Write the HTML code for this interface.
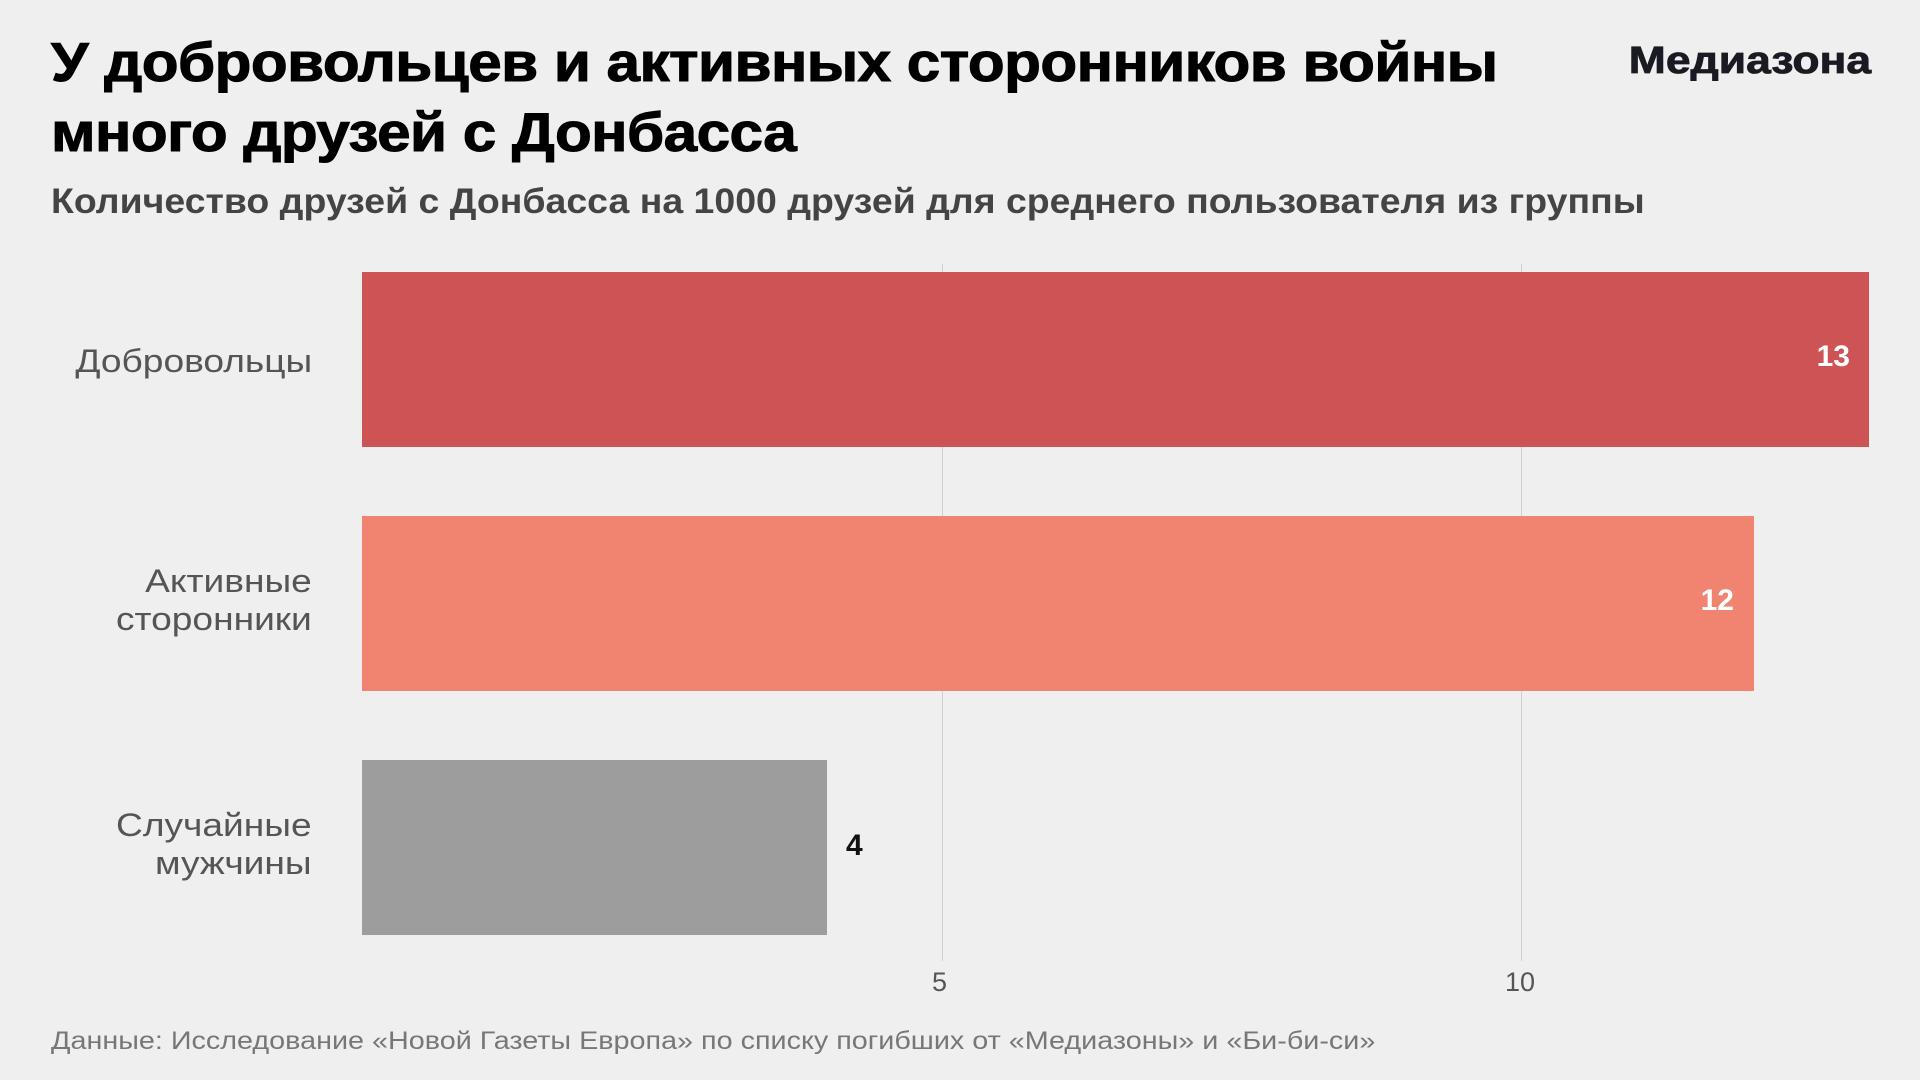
<!DOCTYPE html>
<html><head><meta charset="utf-8"><style>
body{margin:0;width:1920px;height:1080px;background:#efefef;font-family:"Liberation Sans",sans-serif;position:relative;overflow:hidden}
.a{position:absolute;white-space:nowrap}
.t{left:51px;font-weight:900;font-size:55px;color:#000;letter-spacing:-0.5px;transform:scaleX(1.095);transform-origin:left center;-webkit-text-stroke:1px #000}
.lab{right:1608px;text-align:right;font-size:32px;color:#555;line-height:38px;transform:scaleX(1.16);transform-origin:right center}
.bar{position:absolute;left:362px}
.grid{position:absolute;top:264px;height:697px;width:1px;background:#d0d0d0}
.v{font-weight:bold;font-size:30px}
.tick{font-size:27px;color:#555;top:967px}
</style></head><body>
<div class="a t" style="top:30px">У добровольцев и активных сторонников войны</div>
<div class="a t" style="top:100px">много друзей с Донбасса</div>
<div class="a" style="right:49px;top:40px;font-weight:bold;font-size:38px;color:#1a1a22;transform:scaleX(1.17);transform-origin:right center;-webkit-text-stroke:0.8px #1a1a22">Медиазона</div>
<div class="a" style="left:51px;top:182px;font-size:35px;font-weight:bold;color:#444;transform:scaleX(1.07);transform-origin:left center">Количество друзей с Донбасса на 1000 друзей для среднего пользователя из группы</div>
<div class="grid" style="left:942px"></div>
<div class="grid" style="left:1521px"></div>
<div class="bar" style="top:272px;height:175px;width:1507px;background:#cd5355"></div>
<div class="bar" style="top:516px;height:175px;width:1392px;background:#f08470"></div>
<div class="bar" style="top:760px;height:175px;width:465px;background:#9d9d9d"></div>
<div class="a v" style="right:70px;top:340px;color:#fff">13</div>
<div class="a v" style="right:186px;top:584px;color:#fff">12</div>
<div class="a v" style="left:846px;top:829px;color:#111">4</div>
<div class="a lab" style="top:342px">Добровольцы</div>
<div class="a lab" style="top:562px">Активные<br>сторонники</div>
<div class="a lab" style="top:806px">Случайные<br>мужчины</div>
<div class="a tick" style="left:932px">5</div>
<div class="a tick" style="left:1505px">10</div>
<div class="a" style="left:51px;top:1027px;font-size:25px;color:#777;transform:scaleX(1.15);transform-origin:left center">Данные: Исследование «Новой Газеты Европа» по списку погибших от «Медиазоны» и «Би-би-си»</div>
</body></html>
